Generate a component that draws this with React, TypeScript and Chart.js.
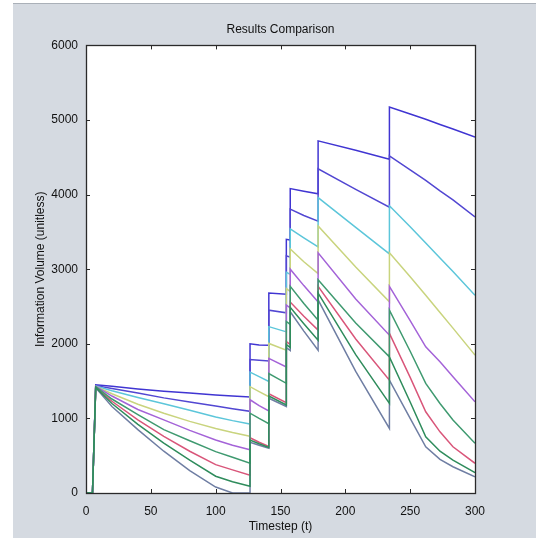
import React, { useEffect, useRef } from "react";
import { Chart, registerables } from "chart.js";

Chart.register(...registerables);

// Shared time grid (timestep t); repeated values mark the vertical jumps
const timesteps = [0, 5, 7.5, 20, 40, 60, 80, 100, 113, 126.5, 126.5, 133.5, 141, 141, 154.5, 154.5, 157.5, 157.5, 168, 179, 179, 208, 234, 234, 250, 262, 273, 283, 300];

const seriesIndigo = [0, 0, 1450, 1430, 1395, 1365, 1340, 1315, 1300, 1286, 2000, 1985, 1980, 2680, 2665, 3400, 3390, 4080, 4045, 4010, 4720, 4595, 4475, 5175, 5080, 5010, 4940, 4880, 4770];
const seriesBlue = [0, 0, 1440, 1400, 1340, 1275, 1220, 1165, 1130, 1095, 1790, 1780, 1770, 2450, 2415, 3180, 3160, 3805, 3720, 3645, 4345, 4070, 3830, 4520, 4330, 4190, 4050, 3930, 3700];
const seriesCyan = [0, 0, 1435, 1370, 1280, 1195, 1110, 1020, 970, 925, 1620, 1560, 1495, 2230, 2160, 2960, 2930, 3540, 3420, 3300, 3960, 3560, 3205, 3850, 3570, 3350, 3150, 2970, 2650];
const seriesYellow = [0, 0, 1430, 1330, 1190, 1070, 960, 865, 810, 760, 1425, 1360, 1290, 2005, 1915, 2740, 2700, 3270, 3100, 2940, 3580, 3030, 2562, 3220, 2900, 2650, 2420, 2210, 1848];
const seriesPurple = [0, 0, 1430, 1300, 1120, 980, 840, 710, 640, 580, 1250, 1170, 1100, 1805, 1690, 2520, 2480, 3000, 2780, 2560, 3220, 2600, 2116, 2770, 2310, 1960, 1760, 1558, 1223];
const seriesGreen = [0, 0, 1425, 1260, 1050, 850, 700, 555, 480, 400, 1070, 1000, 930, 1600, 1470, 2300, 2260, 2770, 2540, 2317, 2860, 2280, 1825, 2451, 1900, 1469, 1200, 978, 666];
const seriesRed = [0, 0, 1420, 1230, 980, 760, 560, 380, 310, 237, 740, 680, 625, 1330, 1210, 2030, 1990, 2560, 2370, 2183, 2770, 2065, 1513, 2139, 1550, 1089, 820, 620, 398];
const seriesGreen2 = [0, 0, 1415, 1200, 920, 670, 440, 225, 150, 90, 710, 660, 610, 1300, 1180, 1990, 1950, 2490, 2270, 2049, 2680, 1855, 1201, 1825, 1220, 754, 560, 442, 272];
const seriesSlate = [0, 0, 1410, 1160, 850, 560, 300, 80, 0, 0, 680, 640, 600, 1270, 1160, 1950, 1910, 2430, 2170, 1915, 2590, 1630, 866, 1513, 1000, 620, 450, 352, 218];

const seriesList = [
  { name: "Run 1", values: seriesIndigo, color: "#4035d2", order: 8 },
  { name: "Run 2", values: seriesBlue, color: "#5247d2", order: 7 },
  { name: "Run 3", values: seriesCyan, color: "#5cc6da", order: 6 },
  { name: "Run 4", values: seriesYellow, color: "#c9d47e", order: 5 },
  { name: "Run 5", values: seriesPurple, color: "#a463d8", order: 4 },
  { name: "Run 6", values: seriesGreen, color: "#3f9a70", order: 1 },
  { name: "Run 7", values: seriesRed, color: "#d9567a", order: 3 },
  { name: "Run 8", values: seriesGreen2, color: "#2f8c5c", order: 0 },
  { name: "Run 9", values: seriesSlate, color: "#6f7ea3", order: 2 },
];

const xTickValues = [0, 50, 100, 150, 200, 250, 300];
const yTickValues = [0, 1000, 2000, 3000, 4000, 5000, 6000];

const FONT = "'Liberation Sans', Arial, Helvetica, sans-serif";

const framePlugin = {
  id: "matlabFrame",
  beforeDatasetsDraw(chart: any) {
    const { ctx, chartArea } = chart;
    ctx.save();
    ctx.fillStyle = "#ffffff";
    ctx.fillRect(chartArea.left, chartArea.top, chartArea.right - chartArea.left, chartArea.bottom - chartArea.top);
    ctx.restore();
  },
  afterDraw(chart: any) {
    const { ctx, chartArea, scales } = chart;
    const { left, right, top, bottom } = chartArea;
    const len = 4;
    ctx.save();
    ctx.strokeStyle = "#2a2a2a";
    ctx.lineWidth = 1;
    ctx.beginPath();
    xTickValues.forEach((v) => {
      const px = Math.round(scales.x.getPixelForValue(v)) + 0.5;
      ctx.moveTo(px, bottom);
      ctx.lineTo(px, bottom - len);
      ctx.moveTo(px, top);
      ctx.lineTo(px, top + len);
    });
    yTickValues.forEach((v) => {
      const py = Math.round(scales.y.getPixelForValue(v)) + 0.5;
      ctx.moveTo(left, py);
      ctx.lineTo(left + len, py);
      ctx.moveTo(right, py);
      ctx.lineTo(right - len, py);
    });
    ctx.stroke();
    ctx.lineWidth = 1.3;
    ctx.strokeRect(Math.round(left) + 0.5, Math.round(top) + 0.5, Math.round(right - left), Math.round(bottom - top));
    ctx.restore();
  },
};

export default function App() {
  const canvasRef = useRef<HTMLCanvasElement | null>(null);

  useEffect(() => {
    document.body.style.margin = "0";
    const canvas = canvasRef.current;
    if (!canvas) return;
    const datasets = seriesList.map((s) => ({
      label: s.name,
      data: timesteps.map((t, i) => ({ x: t, y: s.values[i] })),
      borderColor: s.color,
      backgroundColor: s.color,
      borderWidth: 1.5,
      pointRadius: 0,
      tension: 0,
      fill: false,
      order: s.order,
    }));
    const chart = new Chart(canvas, {
      type: "line",
      data: { datasets },
      plugins: [framePlugin],
      options: {
        animation: false,
        responsive: false,
        maintainAspectRatio: false,
        layout: { padding: { left: 0, right: 61, top: 0, bottom: 0 } },
        plugins: {
          legend: { display: false },
          tooltip: { enabled: false },
          title: {
            display: true,
            text: "Results Comparison",
            fullSize: false,
            color: "#111",
            font: { family: FONT, size: 12, weight: "normal" },
            padding: { top: 22, bottom: 9 },
          },
        },
        scales: {
          x: {
            type: "linear",
            min: 0,
            max: 300,
            afterBuildTicks: (scale: any) => {
              scale.ticks = xTickValues.map((v) => ({ value: v }));
            },
            afterFit: (scale: any) => {
              scale.height = 46;
            },
            grid: { display: false, drawTicks: false },
            border: { display: false },
            ticks: {
              padding: 11,
              color: "#111",
              maxRotation: 0,
              font: { family: FONT, size: 12 },
              callback: (v: any) => String(v),
            },
            title: {
              display: true,
              text: "Timestep (t)",
              color: "#111",
              font: { family: FONT, size: 12 },
              padding: { top: 0, bottom: 5 },
            },
          },
          y: {
            type: "linear",
            min: 0,
            max: 6000,
            afterBuildTicks: (scale: any) => {
              scale.ticks = yTickValues.map((v) => ({ value: v }));
            },
            afterFit: (scale: any) => {
              scale.width = 86;
            },
            grid: { display: false, drawTicks: false },
            border: { display: false },
            ticks: {
              padding: 8,
              color: "#111",
              font: { family: FONT, size: 12 },
              callback: (v: any) => String(v),
            },
            title: {
              display: true,
              text: "Information Volume (unitless)",
              color: "#111",
              font: { family: FONT, size: 12 },
              padding: { top: 33, bottom: 0 },
            },
          },
        },
      },
    } as any);
    return () => chart.destroy();
  }, []);

  return (
    <div style={{ position: "relative", width: 536, height: 539, background: "#ffffff", overflow: "hidden" }}>
      <div
        style={{
          position: "absolute",
          left: 13,
          top: 3,
          width: 523,
          height: 535,
          background: "#d5dae1",
          borderTop: "1px solid #aab0b8",
          boxSizing: "border-box",
        }}
      />
      <canvas ref={canvasRef} width={536} height={539} style={{ position: "absolute", left: 0, top: 0 }} />
    </div>
  );
}
